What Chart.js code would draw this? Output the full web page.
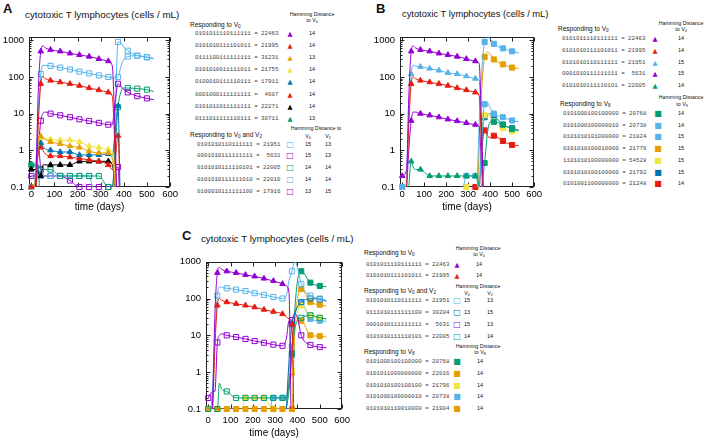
<!DOCTYPE html>
<html>
<head>
<meta charset="utf-8">
<script src="https://cdn.jsdelivr.net/npm/chart.js@4"></script>
<style>
body { margin: 0; background: #fff; width: 706px; height: 442px; position: relative; overflow: hidden;
       font-family: "Liberation Sans", Arial, sans-serif; }
canvas { position: absolute; }
.t { position: absolute; white-space: pre; line-height: 1; transform: translateY(-50%); color: #111; }
.c { transform: translate(-50%, -50%); }
.mono { font-family: "Liberation Mono", "DejaVu Sans Mono", monospace; }
.g { font-family: "DejaVu Sans", sans-serif; }
sub { font-size: 70%; vertical-align: -0.3em; line-height: 0; }
</style>
</head>
<body>
<canvas id="chartA" width="180" height="189" style="left:0px;top:26px"></canvas>
<canvas id="chartB" width="173" height="189" style="left:371px;top:26px"></canvas>
<canvas id="chartC" width="179" height="190" style="left:177px;top:251px"></canvas>
<script>
// shared time grid (days) and the days that carry a marker
const days = [0, 20, 30, 41, 50, 60, 83, 125, 167, 208, 250, 292, 333, 350, 362, 375, 388, 400, 417, 458, 500, 530];
const markerDays = [0, 41, 83, 125, 167, 208, 250, 292, 333, 375, 417, 458, 500];
const xTicks = [0, 100, 200, 300, 400, 500, 600];
const yTicks = [0.1, 1, 10, 100, 1000];

const PURPLE = "#9400D3", GREEN = "#009E73", LTBLUE = "#56B4E9", ORANGE = "#E69F00",
      YELLOW = "#F0E442", BLUE = "#0072B2", RED = "#E51E10", BLACK = "#000000";

// ---- panel A ----
const aV0Codes = ["0101011110111111", "0101010111101011", "0111100111111111", "0101010011111011",
                  "0100010111110111", "0001000111111111", "0101011011111111", "0111011111110111"];
const aV0Ids = [22463, 21995, 31231, 21755, 17911, 4607, 22271, 30711];
const aV0Hd = [14, 14, 13, 14, 14, 14, 14, 13];
const aV0Colors = [PURPLE, RED, ORANGE, YELLOW, BLUE, RED, BLACK, GREEN];
const aV0Values = [
    [0.01, 0.2, 40, 500, 700, 620, 550, 500, 440, 400, 360, 310, 270, 200, 3, 0.01, 0.01, 0.01, 0.01, 0.01, 0.01, 0.01],
    [0.1, 0.1, 5, 65, 100, 90, 80, 72, 65, 58, 50, 44, 38, 30, 1, 0.01, 0.01, 0.01, 0.01, 0.01, 0.01, 0.01],
    [0.01, 0.3, 2, 2.4, 2.2, 2, 1.7, 1.5, 1.3, 1.2, 0.95, 0.85, 0.85, 0.6, 0.1, 0.01, 0.01, 0.01, 0.01, 0.01, 0.01, 0.01],
    [0.01, 0.2, 1.5, 2.2, 2.1, 2.1, 2.0, 1.9, 1.9, 1.7, 1.3, 1.2, 1.05, 0.9, 0.2, 0.01, 0.01, 0.01, 0.01, 0.01, 0.01, 0.01],
    [0.01, 0.2, 1.3, 1.6, 1.3, 1.1, 1.0, 0.9, 0.9, 0.75, 0.75, 0.75, 0.8, 0.7, 3, 16, 0.01, 0.01, 0.01, 0.01, 0.01, 0.01],
    [0.01, 0.1, 0.9, 1.2, 1.0, 0.8, 0.7, 0.7, 0.65, 0.6, 0.55, 0.5, 0.4, 0.3, 0.5, 2.5, 0.01, 0.01, 0.01, 0.01, 0.01, 0.01],
    [0.3, 0.3, 0.25, 0.2, 0.4, 0.4, 0.4, 0.4, 0.4, 0.5, 0.5, 0.5, 0.5, 0.4, 0.1, 0.01, 0.01, 0.01, 0.01, 0.01, 0.01, 0.01],
    [0.4, 0.4, 0.4, 0.01, 0.01, 0.01, 0.01, 0.01, 0.01, 0.01, 0.01, 0.01, 0.01, 0.01, 0.01, 0.01, 0.01, 0.01, 0.01, 0.01, 0.01, 0.01]
];
const aV02Codes = ["0101010110111111", "0001010111111111", "0101010111110101", "0101010111111010", "0100010111111100"];
const aV02Ids = [21951, 5631, 22005, 22010, 17916];
const aV02Hd = [[15, 13], [15, 13], [14, 14], [14, 14], [13, 15]];
const aV02Colors = [LTBLUE, PURPLE, GREEN, LTBLUE, PURPLE];
const aV02Values = [
    [0.01, 0.5, 10, 120, 210, 205, 200, 180, 160, 140, 125, 110, 100, 95, 95, 100, 200, 300, 360, 380, 350, 320],
    [0.01, 0.2, 1, 6.4, 10, 11, 10, 9, 8, 7, 6.3, 5.6, 5, 5, 20, 65, 55, 45, 38, 30, 26, 24],
    [0.4, 0.4, 0.4, 0.3, 0.3, 0.3, 0.3, 0.2, 0.2, 0.2, 0.2, 0.2, 0.1, 0.1, 1, 15, 40, 50, 50, 48, 45, 40],
    [0.1, 0.1, 0.3, 0.2, 0.2, 0.2, 0.2, 0.2, 0.2, 0.2, 0.2, 0.01, 0.01, 0.01, 5, 900, 850, 650, 520, 380, 340, 310],
    [0.2, 0.2, 1.5, 0.3, 0.2, 0.2, 0.2, 0.2, 0.15, 0.1, 0.1, 0.1, 0.1, 0.1, 0.3, 0.35, 0.01, 0.01, 0.01, 0.01, 0.01, 0.01]
];

// ---- panel B ----
const bV0Codes = ["0101011110111111", "0101010111101011", "0101010110111111", "0001010111111111", "0101010111110101"];
const bV0Ids = [22463, 21995, 21951, 5631, 22005];
const bV0Hd = [14, 14, 15, 15, 14];
const bV0Colors = [PURPLE, RED, LTBLUE, PURPLE, GREEN];
const bV0Values = [
    [0.2, 0.3, 30, 500, 700, 620, 550, 500, 440, 400, 360, 310, 270, 230, 3, 0.01, 0.01, 0.01, 0.01, 0.01, 0.01, 0.01],
    [0.01, 0.1, 5, 65, 100, 90, 80, 72, 65, 58, 50, 44, 38, 30, 1, 0.01, 0.01, 0.01, 0.01, 0.01, 0.01, 0.01],
    [0.01, 0.2, 10, 120, 210, 200, 190, 170, 150, 130, 120, 105, 90, 80, 1, 0.01, 0.01, 0.01, 0.01, 0.01, 0.01, 0.01],
    [0.01, 0.1, 1, 6.4, 11, 11, 10, 9, 8, 7, 6.3, 5.6, 5, 4.5, 0.3, 0.01, 0.01, 0.01, 0.01, 0.01, 0.01, 0.01],
    [0.01, 0.01, 0.1, 0.5, 0.35, 0.3, 0.3, 0.2, 0.2, 0.2, 0.2, 0.2, 0.2, 0.1, 0.01, 0.01, 0.01, 0.01, 0.01, 0.01, 0.01, 0.01]
];
const bV8Codes = ["0101000100100000", "0101000100000010", "0101010101000000", "0101010100010000",
                  "1101010100000000", "0101010100100000", "0101001100000000"];
const bV8Ids = [20768, 20738, 21824, 21776, 54528, 21792, 21248];
const bV8Hd = [14, 14, 15, 15, 15, 15, 14];
const bV8Colors = [GREEN, LTBLUE, LTBLUE, ORANGE, YELLOW, BLUE, RED];
const bV8Values = [
    [0.01, 0.01, 0.01, 0.01, 0.01, 0.01, 0.01, 0.01, 0.01, 0.01, 0.01, 0.01, 0.01, 0.01, 0.1, 0.45, 3, 6, 6, 5, 3.8, 3.5],
    [0.1, 0.1, 0.01, 0.01, 0.01, 0.01, 0.01, 0.01, 0.01, 0.01, 0.01, 0.01, 0.01, 5, 150, 900, 1250, 1100, 800, 600, 500, 450],
    [0.01, 0.01, 0.01, 0.01, 0.01, 0.01, 0.01, 0.01, 0.01, 0.01, 0.01, 0.2, 0.2, 0.1, 2, 18, 20, 14, 10, 8, 6.5, 6],
    [0.01, 0.01, 0.01, 0.01, 0.01, 0.01, 0.01, 0.01, 0.01, 0.01, 0.01, 0.01, 0.01, 1, 50, 350, 470, 420, 300, 220, 180, 170],
    [0.01, 0.01, 0.01, 0.01, 0.01, 0.01, 0.01, 0.01, 0.01, 0.01, 0.01, 0.1, 0.01, 0.2, 3, 9, 10, 8, 6, 4, 3.3, 3.2],
    [0.01, 0.01, 0.01, 0.01, 0.01, 0.01, 0.01, 0.01, 0.01, 0.01, 0.01, 0.01, 0.01, 0.1, 2, 8, 9, 10, 9, 5, 4, 3.5],
    [0.01, 0.01, 0.01, 0.01, 0.01, 0.01, 0.01, 0.01, 0.01, 0.01, 0.01, 0.01, 0.1, 0.1, 1, 3.5, 2.5, 2.2, 2.5, 1.8, 1.4, 1.35]
];

// ---- panel C ----
const cV0Codes = ["0101011110111111", "0101010111101011"];
const cV0Ids = [22463, 21995];
const cV0Hd = [14, 14];
const cV0Colors = [PURPLE, RED];
const cV0Values = [
    [0.01, 0.2, 40, 500, 700, 620, 550, 500, 440, 400, 350, 300, 250, 220, 150, 0.01, 0.01, 0.01, 0.01, 0.01, 0.01, 0.01],
    [0.01, 0.1, 5, 65, 100, 90, 80, 72, 65, 58, 50, 44, 38, 32, 28, 20, 0.01, 0.01, 0.01, 0.01, 0.01, 0.01]
];
const cV02Codes = ["0101010110111111", "0111010111111100", "0001010111111111", "0101010111110101"];
const cV02Ids = [21951, 30204, 5631, 22005];
const cV02Hd = [[15, 13], [13, 15], [15, 13], [14, 14]];
const cV02Colors = [LTBLUE, BLUE, PURPLE, GREEN];
const cV02Values = [
    [0.01, 0.5, 10, 120, 210, 200, 190, 175, 160, 140, 125, 110, 100, 120, 300, 550, 1000, 700, 250, 120, 100, 90],
    [0.01, 0.01, 0.01, 0.01, 0.01, 0.01, 0.01, 0.01, 0.01, 0.01, 0.01, 0.01, 0.01, 0.1, 2, 20, 40, 60, 80, 100, 95, 85],
    [0.2, 0.3, 0.3, 6.4, 10, 11, 10, 9, 8, 7, 6.3, 5.6, 5.2, 8, 25, 26, 40, 30, 10, 5.5, 4.8, 4.6],
    [0.1, 0.1, 0.1, 0.1, 0.5, 0.35, 0.3, 0.2, 0.2, 0.2, 0.2, 0.2, 0.2, 0.2, 0.5, 3, 15, 25, 30, 35, 30, 28]
];
const cV8Codes = ["0101000100100000", "0101011000000000", "0101010100100100", "0101000100000010", "0101010110010000"];
const cV8Ids = [20768, 22016, 21796, 20738, 21904];
const cV8Hd = [14, 14, 14, 14, 14];
const cV8Colors = [GREEN, ORANGE, YELLOW, LTBLUE, ORANGE];
const cV8Values = [
    [0.01, 0.01, 0.01, 0.01, 0.01, 0.01, 0.01, 0.01, 0.01, 0.01, 0.01, 0.01, 0.01, 0.1, 0.3, 3.3, 50, 300, 550, 270, 220, 210],
    [0.1, 0.1, 0.1, 0.1, 0.1, 0.1, 0.1, 0.1, 0.1, 0.1, 0.1, 0.1, 0.1, 0.1, 0.1, 0.1, 20, 100, 180, 80, 68, 62],
    [0.01, 0.01, 0.01, 0.01, 0.01, 0.01, 0.01, 0.01, 0.2, 0.2, 0.2, 0.1, 0.1, 0.1, 1, 1.1, 10, 40, 65, 35, 30, 28],
    [0.01, 0.01, 0.01, 0.01, 0.01, 0.01, 0.01, 0.01, 0.01, 0.01, 0.01, 0.2, 0.2, 0.2, 1, 5, 30, 60, 75, 28, 25, 24],
    [0.01, 0.01, 0.01, 0.01, 0.01, 0.01, 0.01, 0.01, 0.01, 0.01, 0.01, 0.01, 0.01, 0.1, 0.5, 1, 15, 25, 25, 10, 9.5, 9]
];

Chart.defaults.font.family = '"Liberation Sans", Arial, sans-serif';
Chart.defaults.color = "#000";

// gnuplot-like box with inward ticks
const framePlugin = {
    id: "frame",
    beforeDatasetsDraw(chart) {
        const ctx = chart.ctx, a = chart.chartArea, x = chart.scales.x, y = chart.scales.y;
        const L = Math.round(a.left) + 0.5, R = Math.round(a.right) - 0.5;
        const T = Math.round(a.top) + 0.5, B = Math.round(a.bottom) - 0.5;
        ctx.save();
        ctx.strokeStyle = "#222";
        ctx.lineWidth = 1;
        ctx.strokeRect(L, T, R - L, B - T);
        ctx.beginPath();
        xTicks.forEach(v => {
            const px = Math.round(x.getPixelForValue(v)) + 0.5;
            ctx.moveTo(px, B); ctx.lineTo(px, B - 4);
            ctx.moveTo(px, T); ctx.lineTo(px, T + 4);
        });
        yTicks.forEach(v => {
            for (let k = 1; k <= 9; k++) {
                if (v * k > y.max) break;
                const py = Math.round(y.getPixelForValue(v * k)) + 0.5;
                const len = k === 1 ? 4 : 2;
                ctx.moveTo(L, py); ctx.lineTo(L + len, py);
                ctx.moveTo(R, py); ctx.lineTo(R - len, py);
            }
        });
        ctx.stroke();
        ctx.restore();
    }
};

function makeChart(id, groups, yMax, xAxisHeight, xTickPad) {
    let datasets = [];
    groups.forEach(g => {
        g.values.forEach((vals, i) => {
            let color = g.colors[i];
            let pts = days.map((d, k) => ({ x: d, y: vals[k] }));
            datasets.push({
                data: pts, borderColor: color, borderWidth: 1, pointRadius: 0,
                cubicInterpolationMode: "monotone", fill: false
            });
            datasets.push({
                data: pts.filter(p => markerDays.includes(p.x) && p.y >= 0.1),
                showLine: false, clip: false,
                pointStyle: g.shape === "tri" ? "triangle" : "rect",
                pointRadius: g.shape === "tri" ? 3.2 : 3.6,
                pointBorderColor: color, pointBorderWidth: 1,
                pointBackgroundColor: g.shape === "open" ? "rgba(255,255,255,0)" : color
            });
        });
    });

    new Chart(document.getElementById(id), {
        type: "line",
        data: { datasets: datasets },
        plugins: [framePlugin],
        options: {
            responsive: false, animation: false, devicePixelRatio: 1,
            layout: { padding: { top: 2, right: 6, left: 0, bottom: 0 } },
            plugins: { legend: { display: false }, tooltip: { enabled: false } },
            scales: {
                x: {
                    type: "linear", min: -10, max: 600,
                    grid: { display: false, drawTicks: false }, border: { display: false },
                    ticks: { padding: xTickPad, maxRotation: 0, autoSkip: false, font: { size: 9.5 }, callback: v => String(v) },
                    afterBuildTicks: s => { s.ticks = xTicks.map(v => ({ value: v })); },
                    afterFit: s => { s.height = xAxisHeight; },
                    title: { display: true, text: "time (days)", font: { size: 10 }, padding: { top: 0, bottom: 2 } }
                },
                y: {
                    type: "logarithmic", min: 0.1, max: yMax,
                    grid: { display: false, drawTicks: false }, border: { display: false },
                    ticks: { padding: 5, autoSkip: false, font: { size: 9.5 }, callback: v => String(v) },
                    afterBuildTicks: s => { s.ticks = yTicks.map(v => ({ value: v })); },
                    afterFit: s => { s.width = 29; }
                }
            }
        }
    });
}

makeChart("chartA", [
    { values: aV0Values, colors: aV0Colors, shape: "tri" },
    { values: aV02Values, colors: aV02Colors, shape: "open" }
], 1250, 28, 2);

makeChart("chartB", [
    { values: bV0Values, colors: bV0Colors, shape: "tri" },
    { values: bV8Values, colors: bV8Colors, shape: "sq" }
], 1250, 28, 2);

makeChart("chartC", [
    { values: cV0Values, colors: cV0Colors, shape: "tri" },
    { values: cV02Values, colors: cV02Colors, shape: "open" },
    { values: cV8Values, colors: cV8Colors, shape: "sq" }
], 1000, 32, 6);

// ---- text: panel letters, titles, legends ----
function label(html, x, y, size, opts) {
    opts = opts || {};
    let d = document.createElement("div");
    d.className = "t" + (opts.center ? " c" : "") + (opts.cls ? " " + opts.cls : "");
    d.style.left = x + "px";
    d.style.top = y + "px";
    d.style.fontSize = size + "px";
    if (opts.color) d.style.color = opts.color;
    if (opts.bold) d.style.fontWeight = "bold";
    d.innerHTML = html;
    document.body.appendChild(d);
}

const glyph = { tri: "\u25B2", sq: "\u25A0", open: "\u25A1" };

function legendGroup(g) {
    label(g.title, g.x, g.y, 6.5);
    g.hdLines.forEach(h => label(h[0], h[1], h[2], 5.3, { center: true }));
    g.codes.forEach((code, i) => {
        let ry = g.rowY + i * g.dy;
        label(code + " = " + String(g.ids[i]).padStart(5, " "), g.codeX, ry, 5.8, { cls: "mono", color: "#444" });
        label(glyph[g.shape], g.markX, ry, g.shape === "tri" ? 6.5 : 8, { center: true, cls: "g", color: g.colors[i] });
        [].concat(g.hd[i]).forEach((v, k) => label(String(v), g.hdX[k], ry, 5.5, { center: true }));
    });
}

const title = "cytotoxic T lymphocytes (cells / mL)";
label("A", 3, 8, 13, { bold: true });
label("B", 376, 8, 13, { bold: true });
label("C", 182, 235, 13, { bold: true });
label(title, 25, 15, 9.8);
label(title, 402, 15, 9.3);
label(title, 201, 239, 9.7);

const V0 = "V<sub>0</sub>", V2 = "V<sub>2</sub>", V8 = "V<sub>8</sub>";

legendGroup({ title: "Responding to " + V0, x: 190, y: 25,
    hdLines: [["Hamming Distance", 312, 15], ["to " + V0, 312, 20.5]],
    rowY: 34, dy: 12.1, codeX: 195, markX: 290, hdX: [312],
    codes: aV0Codes, ids: aV0Ids, colors: aV0Colors, hd: aV0Hd, shape: "tri" });
legendGroup({ title: "Responding to " + V0 + " and " + V2, x: 190, y: 135,
    hdLines: [["Hamming Distance to", 316, 129], [V0, 308, 136.5], [V2, 328, 136.5]],
    rowY: 144.5, dy: 11.9, codeX: 197, markX: 290, hdX: [308, 328],
    codes: aV02Codes, ids: aV02Ids, colors: aV02Colors, hd: aV02Hd, shape: "open" });

legendGroup({ title: "Responding to " + V0, x: 558, y: 29,
    hdLines: [["Hamming Distance", 681, 24], ["to " + V0, 681, 30]],
    rowY: 39, dy: 11.75, codeX: 562, markX: 655, hdX: [681],
    codes: bV0Codes, ids: bV0Ids, colors: bV0Colors, hd: bV0Hd, shape: "tri" });
legendGroup({ title: "Responding to " + V8, x: 560, y: 104,
    hdLines: [["Hamming Distance", 681, 98], ["to " + V8, 682, 104.5]],
    rowY: 114, dy: 11.7, codeX: 563, markX: 658, hdX: [681],
    codes: bV8Codes, ids: bV8Ids, colors: bV8Colors, hd: bV8Hd, shape: "sq" });

legendGroup({ title: "Responding to " + V0, x: 364, y: 253,
    hdLines: [["Hamming Distance", 478, 249], ["to " + V0, 479, 255]],
    rowY: 265, dy: 11, codeX: 366, markX: 457, hdX: [479],
    codes: cV0Codes, ids: cV0Ids, colors: cV0Colors, hd: cV0Hd, shape: "tri" });
legendGroup({ title: "Responding to " + V0 + " and " + V2, x: 364, y: 291,
    hdLines: [["Hamming Distance", 478, 287], [V0, 467, 293.5], [V2, 490, 293.5]],
    rowY: 300.5, dy: 12.3, codeX: 366, markX: 457, hdX: [467, 490],
    codes: cV02Codes, ids: cV02Ids, colors: cV02Colors, hd: cV02Hd, shape: "open" });
legendGroup({ title: "Responding to " + V8, x: 364, y: 352,
    hdLines: [["Hamming Distance", 478, 347], ["to " + V8, 480, 353]],
    rowY: 362, dy: 11.75, codeX: 366, markX: 457, hdX: [480],
    codes: cV8Codes, ids: cV8Ids, colors: cV8Colors, hd: cV8Hd, shape: "sq" });
</script>
</body>
</html>
